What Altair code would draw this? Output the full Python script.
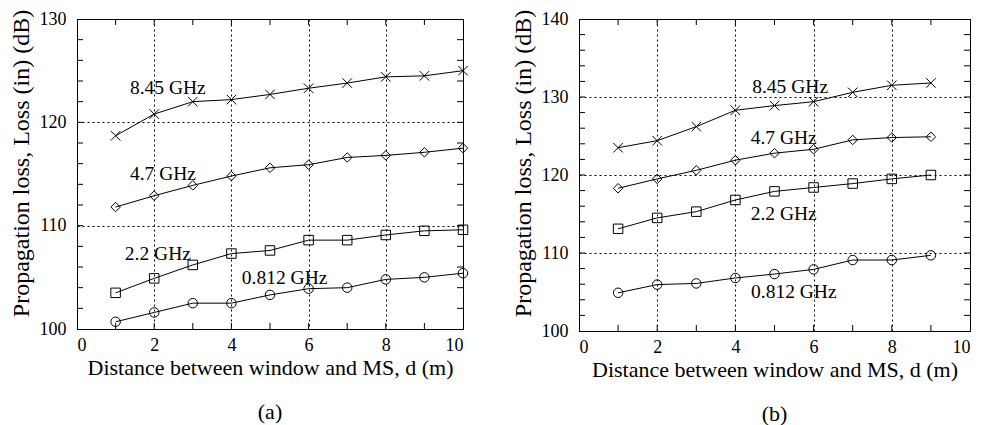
import altair as alt
import pandas as pd

FONT = "Liberation Serif"

FREQS = ["8.45 GHz", "4.7 GHz", "2.2 GHz", "0.812 GHz"]
SHAPES = ["M-1,-1L1,1M-1,1L1,-1", "diamond", "square", "circle"]

# ---- panel (a) ----
dist_a = [1, 2, 3, 4, 5, 6, 7, 8, 9, 10]
loss_a_845 = [118.7, 120.8, 122.0, 122.2, 122.7, 123.3, 123.8, 124.4, 124.5, 125.0]
loss_a_47 = [111.8, 112.9, 113.9, 114.8, 115.6, 115.9, 116.6, 116.8, 117.1, 117.5]
loss_a_22 = [103.5, 104.9, 106.2, 107.3, 107.6, 108.6, 108.6, 109.1, 109.5, 109.6]
loss_a_0812 = [100.7, 101.6, 102.5, 102.5, 103.3, 103.9, 104.0, 104.8, 105.0, 105.4]
label_x_a = [1.37, 1.37, 1.24, 4.27]
label_y_a = [123.3, 115.0, 107.25, 104.9]

# ---- panel (b) ----
dist_b = [1, 2, 3, 4, 5, 6, 7, 8, 9]
loss_b_845 = [123.5, 124.4, 126.2, 128.3, 128.9, 129.4, 130.6, 131.5, 131.8]
loss_b_47 = [118.3, 119.5, 120.6, 121.9, 122.8, 123.3, 124.5, 124.8, 124.9]
loss_b_22 = [113.1, 114.5, 115.3, 116.8, 117.9, 118.4, 118.9, 119.5, 120.0]
loss_b_0812 = [104.9, 105.95, 106.1, 106.8, 107.3, 107.9, 109.1, 109.1, 109.7]
label_x_b = [4.43, 4.39, 4.39, 4.40]
label_y_b = [131.3, 124.7, 115.0, 105.05]

x_major = [0, 2, 4, 6, 8, 10]
x_minor = [1, 2, 3, 4, 5, 6, 7, 8, 9]
y_major_a = [100, 110, 120, 130]
y_minor_a = [102, 104, 106, 108, 110, 112, 114, 116, 118, 120, 122, 124, 126, 128]
y_major_b = [100, 110, 120, 130, 140]
y_minor_b = [102, 104, 106, 108, 110, 112, 114, 116, 118, 120,
             122, 124, 126, 128, 130, 132, 134, 136, 138]

X_TITLE = "Distance between window and MS, d (m)"
Y_TITLE = "Propagation loss, Loss (in) (dB)"
TICK_LEN = 6


def panel(dist, series, lx, ly, ymin, ymax, y_major, y_minor, w, h, caption, title_y):
    rows = []
    for f, vals in zip(FREQS, series):
        for d, v in zip(dist, vals):
            rows.append({"d": d, "loss": v, "freq": f})
    df = pd.DataFrame(rows)
    lab = pd.DataFrame({"d": lx, "loss": ly, "text": FREQS})
    xt = pd.DataFrame({"d": x_minor, "lo": [ymin] * len(x_minor),
                       "hi": [ymax] * len(x_minor)})
    yt = pd.DataFrame({"loss": y_minor, "x0": [0] * len(y_minor),
                       "x1": [10] * len(y_minor)})

    xs = alt.Scale(domain=[0, 10], nice=False, zero=False)
    ys = alt.Scale(domain=[ymin, ymax], nice=False, zero=False)

    x_main = alt.Axis(orient="bottom", values=x_major, grid=True, gridColor="black",
                      gridDash=[2, 3], gridWidth=1, gridOpacity=1, domain=False,
                      ticks=False, tickSize=0, labelFont=FONT, labelFontSize=18,
                      labelColor="black", labelPadding=7, title=X_TITLE,
                      titleFont=FONT, titleFontSize=22, titleFontWeight="normal",
                      titleColor="black", titlePadding=3)
    y_main = alt.Axis(orient="left", values=y_major, grid=True, gridColor="black",
                      gridDash=[2, 3], gridWidth=1, gridOpacity=1, domain=False,
                      ticks=False, tickSize=0, labelFont=FONT, labelFontSize=18,
                      labelColor="black", labelPadding=11, title=Y_TITLE,
                      titleFont=FONT, titleFontSize=24, titleFontWeight="normal",
                      titleColor="black", titlePadding=6, titleY=title_y)

    def X(field):
        return alt.X(field, type="quantitative", scale=xs, axis=x_main)

    def Y(field):
        return alt.Y(field, type="quantitative", scale=ys, axis=y_main)

    line = alt.Chart(df).mark_line(color="black", strokeWidth=1).encode(
        x=X("d"), y=Y("loss"), detail="freq:N",
    )
    pts = alt.Chart(df).mark_point(filled=False, color="black", size=90,
                                   strokeWidth=1, opacity=1).encode(
        x=X("d"), y=Y("loss"),
        shape=alt.Shape("freq:N", scale=alt.Scale(domain=FREQS, range=SHAPES),
                        legend=None),
    )
    txt = alt.Chart(lab).mark_text(align="left", baseline="middle", font=FONT,
                                   fontSize=19.5, color="black").encode(
        x=X("d"), y=Y("loss"), text="text:N",
    )
    # inward minor ticks on all four sides of the frame (short rules)
    rs = dict(color="black", strokeWidth=1, opacity=1)
    tick_b = alt.Chart(xt).mark_rule(y2Offset=-TICK_LEN, **rs).encode(
        x=X("d"), y=Y("lo"), y2="lo:Q")
    tick_t = alt.Chart(xt).mark_rule(y2Offset=TICK_LEN, **rs).encode(
        x=X("d"), y=Y("hi"), y2="hi:Q")
    tick_l = alt.Chart(yt).mark_rule(x2Offset=TICK_LEN, **rs).encode(
        y=Y("loss"), x=X("x0"), x2="x0:Q")
    tick_r = alt.Chart(yt).mark_rule(x2Offset=-TICK_LEN, **rs).encode(
        y=Y("loss"), x=X("x1"), x2="x1:Q")
    return alt.layer(line, pts, txt, tick_b, tick_t, tick_l, tick_r).properties(
        width=w, height=h,
        title=alt.TitleParams(caption, orient="bottom", font=FONT, fontSize=22,
                              fontWeight="normal", color="black", offset=24),
    )


pa = panel(dist_a, [loss_a_845, loss_a_47, loss_a_22, loss_a_0812],
           label_x_a, label_y_a, 100, 130, y_major_a, y_minor_a, 386, 310, "(a)", 144)
pb = panel(dist_b, [loss_b_845, loss_b_47, loss_b_22, loss_b_0812],
           label_x_b, label_y_b, 100, 140, y_major_b, y_minor_b, 391, 312, "(b)", 144)

chart = alt.hconcat(pa, pb, spacing=39).properties(
    padding={"left": 0, "top": 0, "right": 0, "bottom": 0},
    background="white",
).configure_view(stroke="black", strokeWidth=1)

chart.save("out.html", embed_options={"renderer": "svg", "actions": False})
